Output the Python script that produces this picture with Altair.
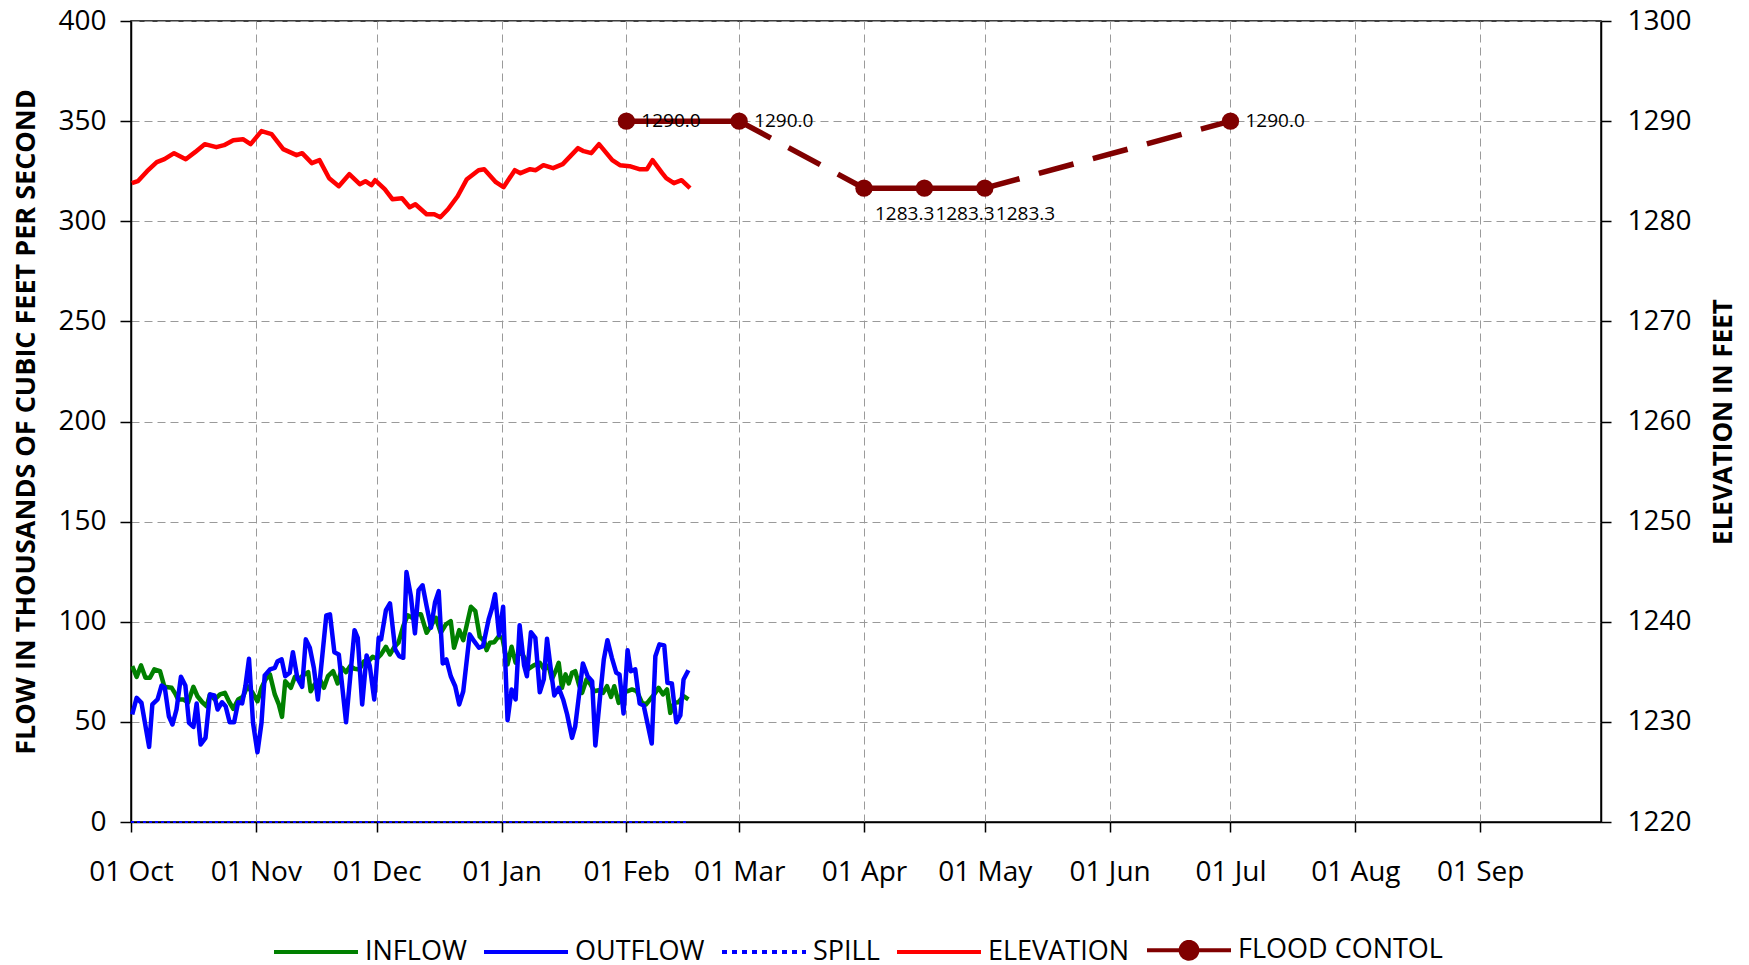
import altair as alt
import pandas as pd

WY_START = "2012-10-01"

SERIES = ["INFLOW", "OUTFLOW", "SPILL", "ELEVATION", "FLOOD CONTOL"]
SERIES_COLORS = ["#008000", "#0000FF", "#0000FF", "#FF0000", "#800000"]

# Daily flow readings (day of water year, thousands of cfs)
INFLOW_DAYS = [0.3, 1.4, 2.5, 3.6, 4.7, 5.8, 7.2, 8.3, 10.1, 11.1, 11.7, 13, 14.2, 15.5, 16.5, 17.7, 18.8, 19.6,
               20.8, 22.1, 23.3, 24.3, 25.4, 26.6, 27.8, 28.9, 30.1, 31.4, 32.4, 33.4, 34.5, 35.7, 36.7, 37.5,
               38.3, 39.7, 40.7, 41.6, 42.7, 44, 44.6, 45.6, 46.9, 47.9, 48.9,
               50.2, 51.3, 52.4, 53.4, 54.4, 55.5, 56.7, 57.9, 59, 60, 61, 62.1, 63.3, 64.3, 65.4, 66.4, 67.6,
               68.7, 69.8, 70.9, 72, 73.4, 74.7, 75.7, 76.9, 78.2, 79.4, 80.2, 81.5, 82.5, 83.3, 84.4, 85.5,
               86.6, 87.7, 88.3, 89.1, 90.2, 91.2, 92.2, 93.5, 94.5, 95.5, 96.5, 97.9,
               98.5, 100, 101.5, 102.6, 103.7, 104.5, 105.6, 106.2, 107, 107.9, 108.7, 109.5, 110.3, 111.2,
               112, 113.1, 114.1, 115, 116.1, 117.2, 118.2, 119.2, 120, 121.1, 122.2, 123.3, 124.4, 125.6,
               126.9, 127.9, 128.9, 129.9, 131, 132.1, 133.1, 133.9, 134.9, 135.9, 137.2, 138.4]
INFLOW_KCFS = [77.8, 72.5, 78.2, 72, 72, 76.2, 75.3, 67.5, 67, 63.7, 61.2, 61.2, 59.8, 67.5, 62.8, 59.8, 57.8, 63.7,
               61.2, 63.7, 64.5, 60.3, 56.5, 61.2, 62.5, 67.8, 64.8, 60.3, 67, 71.2, 73.7, 63.7, 58.7, 52.5,
               70.3, 67, 72.5, 71.2, 73.2, 74.8, 65.3, 68.7, 71.2, 67, 72.8,
               75.3, 69.2, 77, 74.8, 77.8, 76.5, 76.2, 80.3, 80.3, 82.5, 81.5, 83.7, 87.5, 83.7, 87.5, 89.5, 97.8,
               103.2, 102, 103.7, 103.7, 94.5, 98.7, 102, 94.5, 98.7, 100.3, 87, 95.8, 90.8, 97.8, 107.5, 105.3,
               92.5, 90.3, 85.8, 89.5, 89.8, 92.5, 92, 78.7, 87.5, 79.5, 86.2, 81.2,
               76.2, 78.2, 79.5, 76.2, 78.2, 71.2, 76.2, 79.5, 67, 73.7, 69.2, 74.5, 75.3, 68.7,
               64.5, 71.2, 68.7, 65.3, 65.8, 64.5, 67.8, 62.5, 67.8, 59.5, 66.2, 65.3, 66.2, 65.3,
               59.5, 58.7, 61.2, 63.7, 67, 63.7, 66.2, 54.5, 59.5, 59.8, 62.8, 61.2]

OUTFLOW_DAYS = [0.3, 1.4, 2.6, 4.5, 5.3, 6.6, 7.6, 8.4, 9.4, 10.3, 11.3, 12.4, 13.5, 14.4, 15.5, 16.3, 17.3, 18.5,
                19.6, 20.7, 21.5, 22.6, 23.5, 24.5, 25.6, 26.6, 27.6, 28.4, 29.3, 30.3, 31.4, 32.4, 33.2, 34.5,
                35.7, 36.4, 37.4, 38.3, 39.4, 40.2, 41.3, 42.5, 43.4, 44.4, 45.4, 46.4, 47.5, 48.5,
                49.4, 50.5, 51.6, 53.4, 55.5, 56.3, 57.4, 58.5, 59.3, 60.4, 61.5, 62.1, 63.3, 64.3, 65.6, 66.6,
                67.6, 68.4, 69.5, 70.5, 71.4, 72.4, 73.4, 74.5, 75.5, 76.4, 77.4, 78.3, 79.4, 80.5, 81.5, 82.5,
                84.1, 85.2, 86.4, 87.4, 88.8, 89.6, 90.4, 91.4, 92.4, 93.5, 94.5, 95.5, 96.5, 97.6,
                98.3, 99.3, 100.4, 101.5, 102.5, 103.3, 104.3, 105.1, 106.2, 107.3, 108.3, 109.5, 110.3, 112.2,
                113.4, 114.5, 115.3, 116.4, 117.4, 118.3, 119.4, 120.5, 121.3, 122.3, 123.3, 124.1, 125.2,
                126.3, 127.3, 128.3, 129.3, 130.2, 131.2, 132.4, 133.2, 134.3, 135.4, 136.4, 137.2, 138.4]
OUTFLOW_KCFS = [53.7, 62, 59.5, 37.5, 58.7, 61.2, 68.2, 67, 52.8, 48.7, 56.2, 72.5, 68.2, 49.5, 47.5, 59.2, 38.7, 42,
                63.7, 63.2, 56.2, 59.8, 57.8, 49.8, 49.8, 59.8, 59.2, 67.8, 81.5, 49.5, 34.8, 49.5, 73.2, 76.2,
                77, 80.3, 81.2, 72.8, 74.5, 84.8, 72, 67.5, 91.2, 87, 77, 61.2, 83, 103.2,
                103.7, 84.8, 83.7, 49.8, 95.8, 92, 58.7, 83.2, 77.8, 61.2, 92, 91.2, 105.8, 109.2, 86.2, 82.8,
                82, 124.8, 112.8, 94.2, 115.8, 118.2, 107.8, 97, 109.8, 115.3, 79.2, 81.2, 72.8, 67.8, 58.7, 65.3,
                93.7, 90.3, 87, 87.8, 101.2, 106.5, 113.7, 93.2, 107.5, 50.8, 66.2, 61.2, 98.2, 78.2,
                72.8, 94.8, 92, 64.8, 71.2, 91.5, 75.3, 63.2, 67, 61.2, 53.7, 42, 47.8, 79.2,
                72.8, 70.3, 38.2, 61.2, 81.2, 90.8, 82, 74.5, 73.7, 54.2, 85.8, 75.3, 76.2,
                59.2, 58.2, 48.7, 39.2, 82.8, 88.7, 88.2, 69.5, 69.2, 49.8, 53.2, 71.2, 75.8]

SPILL_DAYS = [0, 138.4]
SPILL_KCFS = [0, 0]

ELEV_DAYS = [0.2, 1.7, 4.0, 6.4, 8.3, 10.7, 13.6, 15.9, 18.3, 21.2, 23.1, 25.4, 27.8, 29.7, 32.4, 34.9, 37.8,
             41.1, 42.5, 44.9, 46.8, 49.2, 51.6, 54.2, 56.8, 58.2, 59.7, 60.6, 63.0, 64.9, 67.3, 69.2, 70.6,
             73.4, 75.3, 76.8, 78.7, 81.1, 83.4, 86.3, 87.7, 90.6, 92.5, 95.3, 96.7, 99.1, 100.5, 102.4, 104.8,
             107.2, 111.0, 112.4, 114.3, 116.2, 119.5, 121.4, 123.8, 126.2, 128.1, 129.5, 131.9, 132.9, 134.8,
             136.7, 138.8]
ELEV_FT = [1283.8, 1284.0, 1285.0, 1285.9, 1286.2, 1286.8, 1286.2, 1286.9, 1287.7, 1287.4, 1287.6, 1288.1, 1288.2,
           1287.7, 1289.0, 1288.7, 1287.2, 1286.6, 1286.8, 1285.8, 1286.1, 1284.3, 1283.5, 1284.7, 1283.7, 1284.0,
           1283.6, 1284.1, 1283.2, 1282.2, 1282.3, 1281.4, 1281.7, 1280.7, 1280.7, 1280.4, 1281.2, 1282.5, 1284.2,
           1285.1, 1285.2, 1283.9, 1283.4, 1285.1, 1284.8, 1285.2, 1285.1, 1285.6, 1285.3, 1285.7, 1287.3, 1287.0,
           1286.8, 1287.7, 1286.1, 1285.6, 1285.5, 1285.2, 1285.2, 1286.1, 1284.8, 1284.3, 1283.8, 1284.1, 1283.3]

FC_DATES = ["2013-02-01", "2013-03-01", "2013-04-01", "2013-04-16", "2013-05-01", "2013-07-01"]
FC_FT = [1290.0, 1290.0, 1283.3, 1283.3, 1283.3, 1290.0]
FC_LABEL_POS = ["right", "right", "below", "below", "below", "right"]
# (first point, last point, line style)
FC_SEGMENTS = [(0, 1, "solid"), (1, 2, "dash"), (2, 4, "solid"), (4, 5, "dash")]

X_TICKS = ["2012-10-01", "2012-11-01", "2012-12-01", "2013-01-01", "2013-02-01", "2013-03-01",
           "2013-04-01", "2013-05-01", "2013-06-01", "2013-07-01", "2013-08-01", "2013-09-01"]

start = pd.Timestamp(WY_START)


def to_dates(days):
    return [start + pd.Timedelta(days=float(d)) for d in days]


inflow_df = pd.DataFrame({"date": to_dates(INFLOW_DAYS), "kcfs": INFLOW_KCFS})
outflow_df = pd.DataFrame({"date": to_dates(OUTFLOW_DAYS), "kcfs": OUTFLOW_KCFS})
spill_df = pd.DataFrame({"date": to_dates(SPILL_DAYS), "kcfs": SPILL_KCFS})
elev_df = pd.DataFrame({"date": to_dates(ELEV_DAYS), "ft": ELEV_FT})
fc_df = pd.DataFrame({"date": pd.to_datetime(FC_DATES), "ft": FC_FT, "pos": FC_LABEL_POS})

seg_rows = []
for k, (a, b, style) in enumerate(FC_SEGMENTS):
    for i in range(a, b + 1):
        seg_rows.append({"date": pd.Timestamp(FC_DATES[i]), "ft": FC_FT[i], "seg": k, "style": style})
seg_df = pd.DataFrame(seg_rows)

legend_df = pd.DataFrame({"series": SERIES})


def dt(s):
    t = pd.Timestamp(s)
    return alt.DateTime(year=t.year, month=t.month, date=t.day)


FONT = "Open Sans"

x_enc = alt.X(
    "date:T",
    title=None,
    scale=alt.Scale(domain=[dt("2012-10-01"), dt("2013-10-01")]),
    axis=alt.Axis(
        values=[dt(s) for s in X_TICKS], format="%d %b", labelOverlap=False,
        labelFlush=False, labelAlign="center", labelBound=False,
        labelFont=FONT, labelFontSize=28, labelColor="black", labelPadding=26,
        tickSize=10, tickColor="black", tickWidth=1.5, domainColor="black", domainWidth=1.5,
        grid=True, gridColor="#9a9a9a", gridDash=[8, 5], gridWidth=1,
    ),
)

y_flow = alt.Y(
    "kcfs:Q",
    scale=alt.Scale(domain=[0, 400], nice=False, zero=False),
    axis=alt.Axis(
        values=list(range(0, 401, 50)), orient="left", format="d",
        title="FLOW IN THOUSANDS OF CUBIC FEET PER SECOND",
        titleFont=FONT, titleFontSize=27, titleFontWeight="bold", titleColor="black",
        titleAngle=270, titleX=-105, titleY=400.5, titleAlign="center", titleBaseline="middle",
        labelFont=FONT, labelFontSize=28, labelColor="black", labelPadding=14,
        tickSize=11, tickColor="black", tickWidth=1.5, domainColor="black", domainWidth=1.5,
        grid=True, gridColor="#9a9a9a", gridDash=[8, 5], gridWidth=1,
    ),
)

y_elev = alt.Y(
    "ft:Q",
    scale=alt.Scale(domain=[1220, 1300], nice=False, zero=False),
    axis=alt.Axis(
        values=list(range(1220, 1301, 10)), orient="right", format="d",
        title="ELEVATION IN FEET",
        titleFont=FONT, titleFontSize=26, titleFontWeight="bold", titleColor="black",
        titleAngle=270, titleX=122, titleY=400.5, titleAlign="center", titleBaseline="middle",
        labelFont=FONT, labelFontSize=28, labelColor="black", labelPadding=16,
        tickSize=10, tickColor="black", tickWidth=1.5, domainColor="black", domainWidth=1.5,
        grid=False,
    ),
)

inflow = alt.Chart(inflow_df).mark_line(color=SERIES_COLORS[0], strokeWidth=4.5, strokeJoin="round").encode(
    x=x_enc, y=y_flow)
outflow = alt.Chart(outflow_df).mark_line(color=SERIES_COLORS[1], strokeWidth=4.5, strokeJoin="round").encode(
    x=x_enc, y=y_flow)
spill = alt.Chart(spill_df).mark_line(color=SERIES_COLORS[2], strokeWidth=2, strokeDash=[3, 3]).encode(
    x=x_enc, y=y_flow)

left = alt.layer(spill, inflow, outflow)

elev = alt.Chart(elev_df).mark_line(color=SERIES_COLORS[3], strokeWidth=4.5, strokeJoin="round").encode(
    x=x_enc, y=y_elev)

fc_solid = alt.Chart(seg_df).transform_filter("datum.style == 'solid'").mark_line(
    color=SERIES_COLORS[4], strokeWidth=5.5).encode(x=x_enc, y=y_elev, detail="seg:N")
fc_dash = alt.Chart(seg_df).transform_filter("datum.style == 'dash'").mark_line(
    color=SERIES_COLORS[4], strokeWidth=5.5, strokeDash=[36, 20]).encode(x=x_enc, y=y_elev, detail="seg:N")
fc_pts = alt.Chart(fc_df).mark_point(
    filled=True, shape="circle", size=300, color=SERIES_COLORS[4], opacity=1).encode(x=x_enc, y=y_elev)
fc_lab_r = alt.Chart(fc_df).transform_filter("datum.pos == 'right'").mark_text(
    align="left", baseline="middle", dx=15, font=FONT, fontSize=19, color="black").encode(
    x=x_enc, y=y_elev, text=alt.Text("ft:Q", format=".1f"))
fc_lab_b = alt.Chart(fc_df).transform_filter("datum.pos == 'below'").mark_text(
    align="left", baseline="middle", dx=11, dy=26, font=FONT, fontSize=19, color="black").encode(
    x=x_enc, y=y_elev, text=alt.Text("ft:Q", format=".1f"))

FC_SYMBOL = "M-1,0H1M0.2,0A0.2,0.2,0,1,1,-0.2,0A0.2,0.2,0,1,1,0.2,0Z"
SHAPES = ["stroke", "stroke", "stroke", "stroke", FC_SYMBOL]
DASHES = [[1, 0], [1, 0], [5, 5], [1, 0], [1, 0]]

leg = alt.Legend(title=None)
legend_layer = alt.Chart(legend_df).transform_filter("false").mark_point(
    filled=True, strokeWidth=4, opacity=1).encode(
    stroke=alt.Stroke("series:N", scale=alt.Scale(domain=SERIES, range=SERIES_COLORS), legend=leg),
    fill=alt.Fill("series:N", scale=alt.Scale(domain=SERIES, range=SERIES_COLORS), legend=leg),
    shape=alt.Shape("series:N", scale=alt.Scale(domain=SERIES, range=SHAPES), legend=leg),
    strokeDash=alt.StrokeDash("series:N", scale=alt.Scale(domain=SERIES, range=DASHES), legend=leg),
)

right = alt.layer(elev, fc_solid, fc_dash, fc_pts, fc_lab_r, fc_lab_b, legend_layer)

chart = alt.layer(left, right).resolve_scale(y="independent").properties(
    width=1470, height=801,
    padding={"left": 123, "top": 13, "right": 140, "bottom": 140},
    autosize=alt.AutoSizeParams(type="none"),
).configure_view(
    stroke="black", strokeWidth=1.5
).configure_legend(
    orient="none", legendX=141, legendY=885, direction="horizontal", columns=5,
    symbolSize=7056, symbolStrokeWidth=4, labelFont=FONT, labelFontSize=27, labelColor="black",
    labelOffset=5, columnPadding=9, labelLimit=0, padding=0, rowPadding=0,
)

chart.save("out.html", embed_options={"renderer": "svg", "actions": False})
